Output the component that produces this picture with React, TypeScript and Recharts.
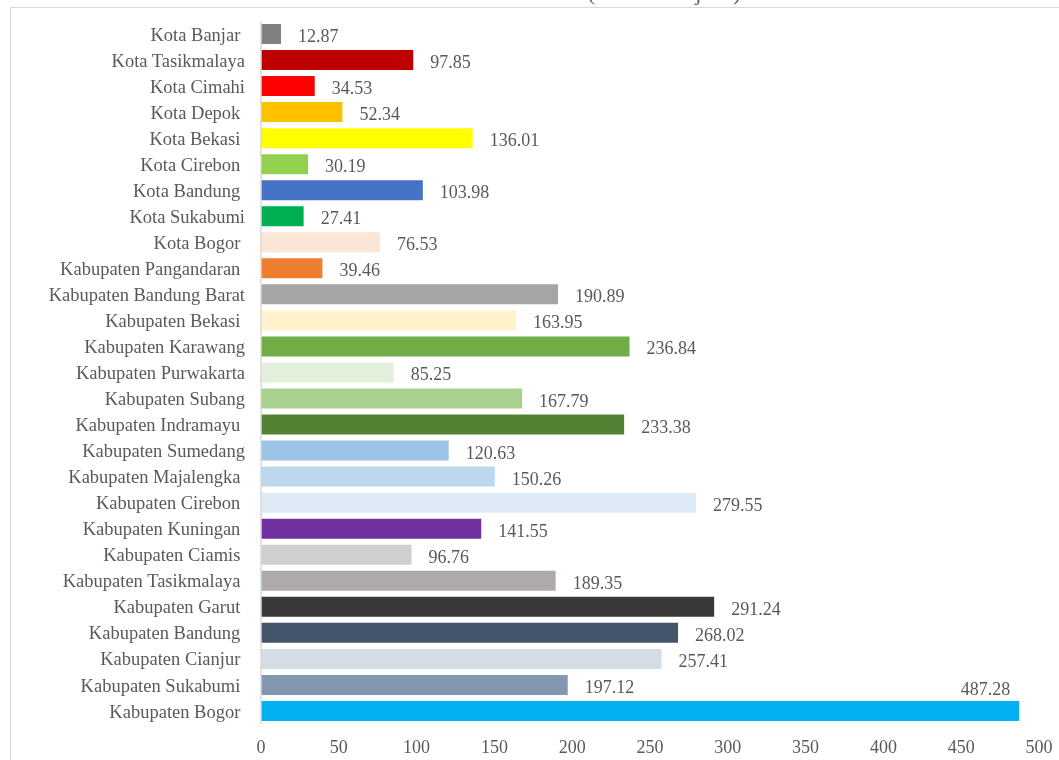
import { BarChart, Bar, XAxis, YAxis, Cell, LabelList } from "recharts";

const REGIONS = [
  "Kota Banjar ",
  "Kota Tasikmalaya",
  "Kota Cimahi",
  "Kota Depok ",
  "Kota Bekasi ",
  "Kota Cirebon ",
  "Kota Bandung ",
  "Kota Sukabumi",
  "Kota Bogor ",
  "Kabupaten Pangandaran ",
  "Kabupaten Bandung Barat",
  "Kabupaten Bekasi ",
  "Kabupaten Karawang",
  "Kabupaten Purwakarta",
  "Kabupaten Subang",
  "Kabupaten Indramayu ",
  "Kabupaten Sumedang",
  "Kabupaten Majalengka ",
  "Kabupaten Cirebon ",
  "Kabupaten Kuningan ",
  "Kabupaten Ciamis ",
  "Kabupaten Tasikmalaya ",
  "Kabupaten Garut ",
  "Kabupaten Bandung ",
  "Kabupaten Cianjur ",
  "Kabupaten Sukabumi ",
  "Kabupaten Bogor ",
];

const VALUES = [
  12.87, 97.85, 34.53, 52.34, 136.01, 30.19, 103.98, 27.41, 76.53, 39.46,
  190.89, 163.95, 236.84, 85.25, 167.79, 233.38, 120.63, 150.26, 279.55,
  141.55, 96.76, 189.35, 291.24, 268.02, 257.41, 197.12, 487.28,
];

const COLORS = [
  "#808080", "#C00000", "#FF0000", "#FFC000", "#FFFF00", "#92D050",
  "#4472C4", "#00B050", "#FBE5D6", "#ED7D31", "#A5A5A5", "#FFF2CC",
  "#70AD47", "#E2EFDA", "#A9D18E", "#548235", "#9DC3E6", "#BDD7EE",
  "#DEEBF7", "#7030A0", "#D0CECE", "#AEAAAA", "#3A3838", "#44546A",
  "#D6DCE5", "#8497B0", "#00B0F0",
];

const X_TICKS = [0, 50, 100, 150, 200, 250, 300, 350, 400, 450, 500];

const TITLE = "Jumlah Penduduk Miskin (dalam ribu jiwa)";

const FONT = '"Liberation Serif", "Times New Roman", serif';
const TEXT = "#595959";
const CHART_W = 1048;
const MARGIN_RIGHT = 20;
const PLOT_RIGHT = CHART_W - MARGIN_RIGHT;

const data = REGIONS.map((name, i) => ({ name, value: VALUES[i] }));

function ValueLabel(props: any) {
  const { x, y, width, height, value } = props;
  const end = x + width;
  const text = Number(value).toFixed(2);
  // label doesn't fit right of the bar -> put it above the bar end
  if (end + 70 > PLOT_RIGHT) {
    return (
      <text x={end - 9} y={y - 6} textAnchor="end" fill={TEXT} fontSize={18} fontFamily={FONT}>
        {text}
      </text>
    );
  }
  return (
    <text x={end + 17} y={y + height / 2 + 8} fill={TEXT} fontSize={18} fontFamily={FONT}>
      {text}
    </text>
  );
}

export default function App() {
  return (
    <div>
      <style>{"body{overflow:hidden}"}</style>
      <svg
        width={1059}
        height={8}
        style={{ position: "fixed", left: 0, top: 0, overflow: "visible" }}
      >
        <text x={549} y={0} textAnchor="middle" fill={TEXT} fontSize={22} fontFamily={FONT}>
          {TITLE}
        </text>
      </svg>
      <div
        style={{
          position: "fixed",
          left: 10,
          top: 7,
          width: 1060,
          height: 770,
          borderLeft: "1px solid #d9d9d9",
          borderTop: "1px solid #d9d9d9",
          background: "#fff",
        }}
      >
        <BarChart
          width={CHART_W}
          height={752}
          data={data}
          layout="vertical"
          barCategoryGap="11.5%"
          margin={{ top: 13, right: MARGIN_RIGHT, bottom: 0, left: 0 }}
        >
          <XAxis
            type="number"
            domain={[0, 500]}
            ticks={X_TICKS}
            interval={0}
            axisLine={false}
            tickLine={false}
            tickMargin={10}
            height={36}
            tick={{ fill: TEXT, fontSize: 18, fontFamily: FONT }}
          />
          <YAxis
            type="category"
            dataKey="name"
            width={250}
            interval={0}
            axisLine={{ stroke: "#d9d9d9", strokeWidth: 1.5 }}
            tickLine={false}
            tickMargin={10}
            tickFormatter={(v: string) => v.replace(/ $/, "\u00a0")}
            tick={{ fill: TEXT, fontSize: 18.5, fontFamily: FONT }}
          />
          <Bar dataKey="value" isAnimationActive={false}>
            {data.map((d, i) => (
              <Cell key={d.name} fill={COLORS[i]} />
            ))}
            <LabelList dataKey="value" content={ValueLabel} />
          </Bar>
        </BarChart>
      </div>
    </div>
  );
}
